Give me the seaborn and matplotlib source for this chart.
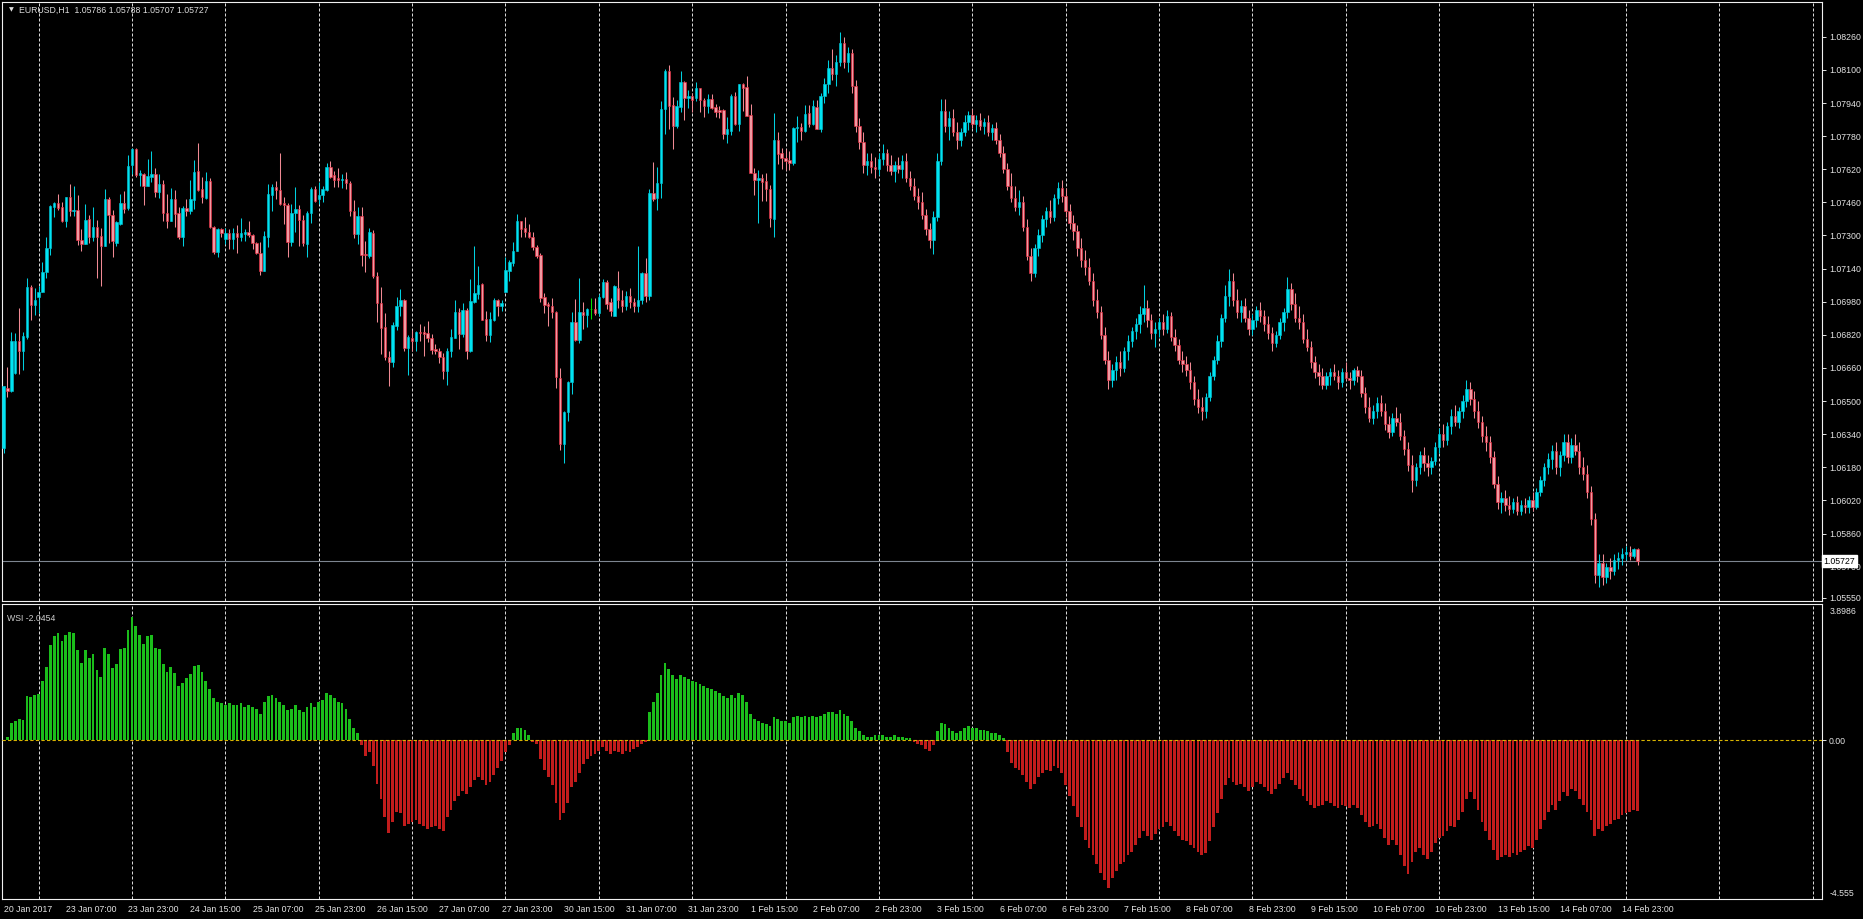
"""
EURUSD H1 candles with the WSI histogram panel underneath (MT4 style, black).
"""
import numpy as np
import pandas as pd
import matplotlib
matplotlib.use("Agg")
import matplotlib.pyplot as plt
import matplotlib.transforms as mtransforms
import seaborn as sns

# ---- data: prices in 1e-5 units, one entry per hourly bar (20 Jan 15:00 .. 15 Feb 03:00)
opens = [
    106273, 106563, 106551, 106635, 106788, 106740, 106812, 107050, 106962, 107005,
    107029, 107126, 107239, 107440, 107456, 107440, 107368, 107485, 107416, 107424,
    107279, 107260, 107380, 107292, 107340, 107298, 107250, 107475, 107397, 107266,
    107355, 107456, 107432, 107641, 107717, 107591, 107598, 107537, 107585, 107598,
    107508, 107549, 107408, 107372, 107475, 107408, 107292, 107432, 107416, 107472,
    107611, 107524, 107480, 107564, 107343, 107222, 107330, 107284, 107311, 107284,
    107311, 107295, 107306, 107316, 107303, 107263, 107214, 107129, 107295, 107496,
    107532, 107520, 107456, 107448, 107268, 107408, 107429, 107375, 107258, 107408,
    107525, 107477, 107496, 107520, 107630, 107593, 107577, 107569, 107573, 107553,
    107419, 107306, 107395, 107213, 107203, 107311, 107102, 106973, 106857, 106715,
    106691, 106865, 106957, 106989, 106756, 106804, 106791, 106836, 106836, 106828,
    106807, 106753, 106743, 106715, 106646, 106740, 106804, 106930, 106823, 106941,
    106740, 106978, 107017, 107065, 106897, 106820, 106893, 106989, 106957, 107026,
    107129, 107166, 107226, 107368, 107335, 107316, 107295, 107242, 107206, 107005,
    106968, 106957, 106930, 106611, 106292, 106447, 106592, 106881, 106796, 106930,
    106917, 106946, 106944, 106925, 107005, 107075, 106981, 106909, 107048, 106990,
    106960, 107010, 106980, 106960, 106990, 107118, 107010, 107504, 107480, 107552,
    107911, 108095, 107931, 107831, 107923, 108043, 107963, 107976, 107963, 108011,
    107955, 107927, 107960, 107923, 107907, 107907, 107789, 107805, 107976, 107837,
    108030, 108019, 107882, 107601, 107568, 107580, 107563, 107525, 107380, 107762,
    107697, 107676, 107665, 107649, 107821, 107826, 107805, 107890, 107837, 107923,
    107815, 107976, 108030, 108110, 108080, 108140, 108230, 108140, 108180, 108020,
    107830, 107750, 107640, 107660, 107630, 107620, 107670, 107700, 107640, 107610,
    107640, 107620, 107660, 107580, 107540, 107490, 107460, 107400, 107330, 107280,
    107390, 107660, 107900, 107830, 107870, 107800, 107760, 107800, 107850, 107880,
    107840, 107860, 107830, 107850, 107800, 107820, 107760, 107700, 107620, 107540,
    107480, 107440, 107460, 107340, 107200, 107120, 107240, 107300, 107380, 107420,
    107390, 107480, 107530, 107490, 107420, 107360, 107320, 107240, 107180, 107150,
    107080, 106990, 106930, 106820, 106700, 106600, 106650, 106690, 106660, 106740,
    106790, 106840, 106870, 106920, 106950, 106890, 106830, 106850, 106880, 106850,
    106910, 106810, 106770, 106700, 106680, 106650, 106590, 106510, 106470, 106450,
    106520, 106620, 106700, 106790, 106900, 107010, 107080, 106990, 106930, 106960,
    106900, 106850, 106890, 106940, 106910, 106870, 106830, 106780, 106820, 106880,
    106930, 107040, 106970, 106900, 106880, 106800, 106760, 106690, 106640, 106620,
    106580, 106620, 106640, 106620, 106590, 106640, 106610, 106600, 106650, 106620,
    106540, 106470, 106420, 106450, 106490, 106450, 106390, 106350, 106420, 106400,
    106330, 106270, 106190, 106120, 106180, 106240, 106200, 106180, 106210, 106280,
    106340, 106310, 106380, 106430, 106400, 106450, 106500, 106560, 106510, 106450,
    106400, 106330, 106300, 106230, 106100, 106010, 106030, 106000, 105980, 106010,
    105970, 106000, 105990, 106020, 105990, 106060, 106120, 106180, 106220, 106260,
    106180, 106240, 106300, 106230, 106290, 106260, 106180, 106150, 106060, 105930,
    105660, 105720, 105650, 105700, 105680, 105730, 105740, 105760, 105770, 105750,
    105786,
]
highs = [
    106574, 106667, 106836, 106831, 106949, 106836, 107094, 107060, 107046, 107054,
    107171, 107295, 107448, 107461, 107501, 107461, 107485, 107548, 107541, 107496,
    107330, 107453, 107400, 107437, 107376, 107335, 107524, 107488, 107424, 107372,
    107500, 107517, 107690, 107722, 107722, 107617, 107604, 107670, 107710, 107625,
    107598, 107569, 107500, 107529, 107521, 107437, 107443, 107475, 107569, 107665,
    107749, 107582, 107606, 107580, 107348, 107335, 107335, 107338, 107330, 107338,
    107351, 107384, 107330, 107372, 107309, 107268, 107268, 107322, 107548, 107548,
    107564, 107697, 107488, 107456, 107451, 107533, 107448, 107400, 107416, 107533,
    107541, 107557, 107541, 107649, 107660, 107612, 107625, 107596, 107606, 107561,
    107472, 107440, 107440, 107274, 107335, 107327, 107123, 107049, 106925, 106740,
    106881, 107005, 107042, 106995, 106820, 106844, 106839, 106872, 106865, 106888,
    106823, 106775, 106756, 106732, 106756, 106849, 106989, 106949, 106973, 106952,
    107091, 107250, 107153, 107070, 106933, 106930, 106997, 106994, 106989, 107198,
    107182, 107268, 107403, 107370, 107387, 107355, 107319, 107252, 107215, 107021,
    106978, 106997, 106936, 106659, 106450, 106598, 106930, 106994, 107094, 106981,
    106952, 107000, 106997, 107017, 107091, 107086, 106997, 107062, 107129, 107037,
    107032, 107048, 107000, 107251, 107126, 107193, 107525, 107654, 107633, 107950,
    108104, 108124, 107971, 107955, 108095, 108045, 108003, 107987, 108043, 108014,
    107966, 107982, 107982, 107934, 107927, 107911, 107874, 107982, 107992, 108030,
    108035, 108072, 107934, 107628, 107617, 107596, 107601, 107544, 107890, 107799,
    107724, 107718, 107708, 107826, 107879, 107842, 107931, 107931, 107955, 107955,
    107987, 108060, 108150, 108200, 108170, 108283, 108260, 108210, 108200, 108050,
    107870, 107800, 107700, 107700, 107680, 107700, 107740, 107720, 107690, 107660,
    107680, 107690, 107700, 107610, 107580, 107530, 107510, 107430, 107360, 107420,
    107700, 107960, 107960, 107900, 107910, 107850, 107820, 107880, 107900, 107910,
    107880, 107890, 107870, 107880, 107840, 107850, 107790, 107730, 107650, 107600,
    107540, 107520, 107490, 107380, 107240, 107260, 107330, 107400, 107440, 107470,
    107500, 107560, 107570, 107530, 107450, 107400, 107350, 107290, 107230, 107190,
    107120, 107040, 106960, 106860, 106740, 106680, 106720, 106740, 106760, 106820,
    106860, 106900, 106960, 107060, 106990, 106920, 106880, 106900, 106920, 106940,
    106930, 106850, 106800, 106740, 106720, 106690, 106620, 106560, 106520, 106540,
    106640, 106720, 106820, 106920, 107060, 107140, 107120, 107040, 106990, 107000,
    106940, 106920, 106960, 106980, 106940, 106910, 106860, 106840, 106900, 106950,
    107100, 107070, 107020, 106960, 106920, 106850, 106790, 106720, 106680, 106660,
    106640, 106660, 106680, 106650, 106660, 106690, 106640, 106660, 106670, 106650,
    106570, 106520, 106480, 106520, 106530, 106490, 106430, 106440, 106470, 106440,
    106360, 106300, 106240, 106200, 106260, 106280, 106240, 106230, 106300, 106370,
    106390, 106400, 106460, 106480, 106470, 106530, 106600, 106590, 106550, 106500,
    106430, 106380, 106330, 106260, 106140, 106060, 106070, 106040, 106030, 106040,
    106020, 106030, 106040, 106060, 106080, 106140, 106200, 106250, 106290, 106300,
    106260, 106340, 106340, 106320, 106340, 106300, 106230, 106190, 106090, 105960,
    105760, 105760, 105720, 105740, 105760, 105770, 105790, 105800, 105800, 105790,
    105788,
]
lows = [
    106249, 106522, 106546, 106632, 106630, 106651, 106801, 106893, 106917, 106925,
    107029, 107094, 107207, 107388, 107421, 107363, 107343, 107395, 107395, 107255,
    107227, 107260, 107263, 107271, 107094, 107058, 107250, 107266, 107195, 107250,
    107351, 107411, 107424, 107596, 107582, 107537, 107448, 107537, 107558, 107488,
    107480, 107372, 107335, 107368, 107343, 107282, 107250, 107392, 107405, 107429,
    107517, 107459, 107477, 107335, 107210, 107198, 107295, 107258, 107235, 107235,
    107214, 107271, 107271, 107295, 107235, 107210, 107110, 107129, 107242, 107416,
    107477, 107448, 107354, 107194, 107251, 107316, 107247, 107247, 107198, 107359,
    107461, 107451, 107464, 107516, 107577, 107536, 107536, 107528, 107525, 107392,
    107287, 107258, 107155, 107123, 107190, 107097, 106884, 106727, 106699, 106575,
    106667, 106844, 106913, 106743, 106627, 106743, 106743, 106791, 106720, 106785,
    106727, 106727, 106683, 106608, 106579, 106715, 106804, 106752, 106812, 106704,
    106735, 106973, 106994, 106893, 106791, 106785, 106888, 106913, 106936, 107026,
    107078, 107155, 107226, 107295, 107295, 107287, 107231, 107190, 106981, 106925,
    106865, 106901, 106563, 106265, 106200, 106402, 106534, 106788, 106780, 106849,
    106856, 106897, 106917, 106913, 107000, 106946, 106909, 106909, 106950, 106930,
    106940, 106950, 106930, 106930, 106970, 106980, 106990, 107467, 107423, 107483,
    107789, 107815, 107718, 107821, 107895, 107858, 107918, 107895, 107950, 107895,
    107874, 107890, 107911, 107874, 107869, 107766, 107745, 107786, 107834, 107805,
    107902, 107879, 107601, 107496, 107359, 107467, 107467, 107343, 107295, 107644,
    107622, 107617, 107617, 107641, 107754, 107762, 107802, 107826, 107834, 107815,
    107800, 107940, 107990, 108050, 108020, 108120, 108110, 108090, 107990, 107800,
    107720, 107600, 107590, 107600, 107580, 107590, 107640, 107610, 107590, 107560,
    107600, 107580, 107560, 107520, 107470, 107430, 107380, 107300, 107240, 107210,
    107370, 107640, 107800, 107760, 107780, 107720, 107730, 107780, 107810, 107820,
    107800, 107810, 107790, 107780, 107760, 107740, 107680, 107600, 107520, 107460,
    107420, 107400, 107320, 107180, 107080, 107100, 107200, 107270, 107340, 107360,
    107370, 107450, 107460, 107390, 107330, 107280, 107200, 107150, 107110, 107060,
    106960, 106900, 106800, 106680, 106560, 106570, 106600, 106620, 106640, 106700,
    106760, 106800, 106830, 106880, 106860, 106800, 106760, 106810, 106820, 106830,
    106790, 106740, 106680, 106640, 106620, 106560, 106480, 106440, 106410, 106420,
    106500, 106600, 106680, 106760, 106880, 106960, 106960, 106900, 106880, 106880,
    106820, 106820, 106860, 106880, 106840, 106800, 106740, 106760, 106800, 106840,
    106900, 106940, 106880, 106850, 106780, 106740, 106660, 106610, 106580, 106560,
    106560, 106580, 106600, 106560, 106570, 106600, 106560, 106580, 106590, 106520,
    106440, 106400, 106390, 106420, 106430, 106360, 106320, 106330, 106380, 106310,
    106240, 106160, 106060, 106090, 106150, 106160, 106140, 106150, 106190, 106250,
    106280, 106290, 106340, 106380, 106370, 106420, 106470, 106480, 106420, 106370,
    106300, 106260, 106200, 106080, 105980, 105960, 105970, 105950, 105960, 105950,
    105950, 105960, 105960, 105970, 105980, 106040, 106090, 106150, 106170, 106150,
    106140, 106210, 106200, 106200, 106240, 106150, 106120, 106030, 105900, 105620,
    105600, 105610, 105620, 105640, 105660, 105690, 105710, 105730, 105730, 105740,
    105707,
]
closes = [
    106571, 106551, 106788, 106788, 106744, 106815, 107050, 106962, 106986, 107029,
    107126, 107239, 107443, 107456, 107435, 107368, 107485, 107416, 107424, 107276,
    107258, 107376, 107292, 107340, 107295, 107250, 107475, 107397, 107271, 107363,
    107456, 107429, 107636, 107717, 107593, 107601, 107541, 107588, 107598, 107508,
    107549, 107408, 107372, 107475, 107405, 107292, 107432, 107416, 107475, 107607,
    107521, 107485, 107561, 107343, 107222, 107330, 107311, 107311, 107284, 107311,
    107295, 107311, 107319, 107303, 107263, 107214, 107129, 107298, 107499, 107536,
    107520, 107451, 107445, 107268, 107408, 107429, 107375, 107263, 107411, 107525,
    107467, 107496, 107525, 107633, 107585, 107569, 107569, 107573, 107553, 107416,
    107306, 107395, 107206, 107206, 107316, 107102, 106973, 106852, 106711, 106691,
    106868, 106957, 106989, 106756, 106812, 106791, 106836, 106828, 106823, 106807,
    106748, 106740, 106715, 106646, 106740, 106812, 106930, 106823, 106941, 106743,
    106984, 107021, 107062, 106893, 106820, 106897, 106989, 106957, 106973, 107134,
    107171, 107226, 107368, 107332, 107319, 107295, 107242, 107203, 106997, 106962,
    106957, 106930, 106614, 106292, 106447, 106592, 106881, 106796, 106930, 106917,
    106946, 106946, 106925, 107005, 107075, 106968, 106933, 107054, 106990, 106960,
    107010, 106980, 106960, 106990, 107118, 107010, 107504, 107477, 107552, 107911,
    108095, 107927, 107831, 107927, 108043, 107963, 107976, 107955, 108011, 107955,
    107927, 107960, 107918, 107898, 107895, 107789, 107815, 107976, 107837, 108030,
    108014, 107879, 107601, 107568, 107580, 107560, 107525, 107383, 107762, 107692,
    107673, 107660, 107649, 107821, 107826, 107805, 107886, 107837, 107927, 107815,
    107976, 108030, 108110, 108080, 108140, 108230, 108140, 108180, 108020, 107830,
    107750, 107640, 107660, 107630, 107620, 107670, 107700, 107640, 107610, 107640,
    107620, 107660, 107580, 107540, 107490, 107460, 107400, 107330, 107280, 107390,
    107660, 107900, 107830, 107870, 107800, 107760, 107800, 107850, 107880, 107840,
    107860, 107830, 107850, 107800, 107820, 107760, 107700, 107620, 107540, 107480,
    107440, 107460, 107340, 107200, 107120, 107240, 107300, 107380, 107420, 107390,
    107480, 107530, 107490, 107420, 107360, 107320, 107240, 107180, 107150, 107080,
    106990, 106930, 106820, 106700, 106600, 106650, 106690, 106660, 106740, 106790,
    106840, 106870, 106920, 106950, 106890, 106830, 106850, 106880, 106850, 106910,
    106810, 106770, 106700, 106680, 106650, 106590, 106510, 106470, 106450, 106520,
    106620, 106700, 106790, 106900, 107010, 107080, 106990, 106930, 106960, 106900,
    106850, 106890, 106940, 106910, 106870, 106830, 106780, 106820, 106880, 106930,
    107040, 106970, 106900, 106880, 106800, 106760, 106690, 106640, 106620, 106580,
    106620, 106640, 106620, 106590, 106640, 106610, 106600, 106650, 106620, 106540,
    106470, 106420, 106450, 106490, 106450, 106390, 106350, 106420, 106400, 106330,
    106270, 106190, 106120, 106180, 106240, 106200, 106180, 106210, 106280, 106340,
    106310, 106380, 106430, 106400, 106450, 106500, 106560, 106510, 106450, 106400,
    106330, 106300, 106230, 106100, 106010, 106030, 106000, 105980, 106010, 105970,
    106000, 105990, 106020, 105990, 106060, 106120, 106180, 106220, 106260, 106180,
    106240, 106300, 106230, 106290, 106260, 106180, 106150, 106060, 105930, 105660,
    105720, 105650, 105700, 105680, 105730, 105740, 105760, 105770, 105750, 105786,
    105727,
]
wsi = [
    0.00, 0.09, 0.48, 0.56, 0.61, 0.58, 1.25, 1.23, 1.28, 1.33,
    1.69, 2.09, 2.71, 2.98, 3.06, 2.84, 3.01, 3.09, 3.06, 2.57,
    2.22, 2.57, 2.34, 2.48, 2.01, 1.81, 2.65, 2.48, 2.06, 2.18,
    2.62, 2.65, 3.15, 3.54, 3.27, 3.01, 2.76, 2.99, 3.01, 2.65,
    2.60, 2.18, 1.95, 2.09, 1.92, 1.56, 1.64, 1.77, 1.90, 2.12,
    2.15, 1.95, 1.70, 1.45, 1.20, 1.10, 1.05, 1.00, 1.05, 1.00,
    1.00, 1.05, 0.95, 1.00, 0.95, 0.90, 0.75, 1.10, 1.25, 1.30,
    1.20, 1.10, 1.00, 0.85, 0.90, 1.00, 0.85, 0.80, 0.95, 1.05,
    0.95, 1.10, 1.15, 1.35, 1.30, 1.20, 1.10, 1.05, 0.90, 0.60,
    0.35, 0.20, -0.15, -0.45, -0.35, -0.75, -1.25, -1.70, -2.20, -2.65,
    -2.35, -2.05, -2.10, -2.45, -2.40, -2.35, -2.30, -2.40, -2.45, -2.55,
    -2.50, -2.45, -2.55, -2.60, -2.20, -2.00, -1.75, -1.60, -1.45, -1.55,
    -1.35, -1.15, -1.05, -1.15, -1.30, -1.20, -1.00, -0.80, -0.60, -0.35,
    -0.15, 0.20, 0.35, 0.35, 0.30, 0.15, -0.05, -0.10, -0.55, -0.85,
    -1.05, -1.30, -1.80, -2.30, -2.10, -1.80, -1.35, -1.20, -0.95, -0.70,
    -0.55, -0.45, -0.40, -0.30, -0.20, -0.30, -0.40, -0.30, -0.35, -0.40,
    -0.30, -0.35, -0.25, -0.20, -0.10, -0.05, 0.80, 1.10, 1.35, 1.85,
    2.20, 2.05, 1.85, 1.75, 1.85, 1.80, 1.75, 1.70, 1.65, 1.60,
    1.55, 1.50, 1.45, 1.40, 1.35, 1.25, 1.20, 1.30, 1.20, 1.35,
    1.30, 1.10, 0.75, 0.60, 0.55, 0.50, 0.45, 0.40, 0.65, 0.60,
    0.55, 0.55, 0.50, 0.65, 0.70, 0.65, 0.70, 0.65, 0.70, 0.65,
    0.70, 0.75, 0.80, 0.80, 0.75, 0.85, 0.75, 0.70, 0.55, 0.35,
    0.25, 0.15, 0.10, 0.10, 0.15, 0.15, 0.15, 0.10, 0.10, 0.15,
    0.10, 0.10, 0.05, 0.05, -0.05, -0.10, -0.15, -0.25, -0.30, -0.15,
    0.25, 0.50, 0.45, 0.35, 0.25, 0.20, 0.25, 0.35, 0.40, 0.35,
    0.35, 0.30, 0.30, 0.25, 0.20, 0.20, 0.15, 0.05, -0.35, -0.65,
    -0.80, -0.85, -1.00, -1.20, -1.40, -1.25, -1.05, -0.95, -0.85, -0.90,
    -0.75, -0.80, -0.95, -1.30, -1.60, -1.90, -2.20, -2.50, -2.85, -3.10,
    -3.30, -3.55, -3.80, -4.00, -4.25, -3.95, -3.75, -3.55, -3.50, -3.30,
    -3.20, -3.00, -2.80, -2.60, -2.75, -2.85, -2.70, -2.55, -2.50, -2.35,
    -2.45, -2.60, -2.75, -2.85, -2.90, -3.00, -3.10, -3.20, -3.30, -3.25,
    -2.90, -2.50, -2.10, -1.70, -1.30, -1.10, -1.20, -1.30, -1.25, -1.35,
    -1.45, -1.35, -1.20, -1.25, -1.35, -1.45, -1.55, -1.40, -1.25, -1.10,
    -0.95, -1.15, -1.30, -1.40, -1.60, -1.75, -1.85, -1.95, -1.90, -1.85,
    -1.75, -1.80, -1.90, -1.95, -1.85, -1.90, -1.95, -1.85, -1.95, -2.15,
    -2.35, -2.50, -2.45, -2.40, -2.55, -2.80, -3.00, -2.85, -3.00, -3.30,
    -3.60, -3.85, -3.50, -3.20, -3.10, -3.30, -3.40, -3.20, -2.95, -2.80,
    -2.75, -2.60, -2.45, -2.50, -2.30, -2.05, -1.70, -1.50, -1.70, -2.00,
    -2.35, -2.60, -2.85, -3.15, -3.45, -3.35, -3.30, -3.35, -3.25, -3.30,
    -3.20, -3.15, -3.05, -3.10, -2.85, -2.55, -2.30, -2.05, -1.85, -2.00,
    -1.75, -1.50, -1.60, -1.40, -1.45, -1.70, -1.85, -2.05, -2.30, -2.75,
    -2.55, -2.60, -2.45, -2.40, -2.30, -2.25, -2.15, -2.10, -2.05, -2.00,
    -2.0454,
]
time_labels = [
    "20 Jan 2017", "23 Jan 07:00", "23 Jan 23:00", "24 Jan 15:00", "25 Jan 07:00",
    "25 Jan 23:00", "26 Jan 15:00", "27 Jan 07:00", "27 Jan 23:00", "30 Jan 15:00",
    "31 Jan 07:00", "31 Jan 23:00", "1 Feb 15:00", "2 Feb 07:00", "2 Feb 23:00",
    "3 Feb 15:00", "6 Feb 07:00", "6 Feb 23:00", "7 Feb 15:00", "8 Feb 07:00",
    "8 Feb 23:00", "9 Feb 15:00", "10 Feb 07:00", "10 Feb 23:00", "13 Feb 15:00",
    "14 Feb 07:00", "14 Feb 23:00",
]
price_ticks = [1.0826, 1.0810, 1.0794, 1.0778, 1.0762, 1.0746, 1.0730, 1.0714, 1.0698,
               1.0682, 1.0666, 1.0650, 1.0634, 1.0618, 1.0602, 1.0586, 1.0570, 1.0555]
last_price = 1.05727
wsi_top, wsi_bottom = 3.8986, -4.555
header = "EURUSD,H1  1.05786 1.05788 1.05707 1.05727"

# ---- look
sns.set_style("dark")
plt.rcParams["font.family"] = ["Liberation Sans", "DejaVu Sans"]
FG = "#e4e4e4"
GRID = "#d8d8d8"
FS = 6.3

W, H = 1863, 919
fig = plt.figure(figsize=(W / 100, H / 100), dpi=100, facecolor="black")


def box(l, t, r, b):
    return [l / W, 1 - b / H, (r - l) / W, (b - t) / H]


ax = fig.add_axes(box(2, 2, 1822, 601))
axi = fig.add_axes(box(2, 604, 1822, 899))

n = len(closes)
x = np.arange(n)
o = np.array(opens) / 1e5
h = np.array(highs) / 1e5
l = np.array(lows) / 1e5
c = np.array(closes) / 1e5

bull = c > o
bear = c < o
face = np.where(bull, "#00e4f2", np.where(bear, "#f09aa2", "#00e000"))
edge = np.where(bull, "#00bfd0", np.where(bear, "#e8283e", "#00e000"))
wick = np.where(bull, "#00d0e0", np.where(bear, "#f08a94", "#00e000"))

ax.vlines(x, l, h, colors=wick, lw=0.75, zorder=3)
ax.bar(x, np.maximum(np.abs(c - o), 0.000012), bottom=np.minimum(o, c),
       width=0.62, color=face, edgecolor=edge, linewidth=0.45, zorder=4)

xmin, xmax = -0.41, 467.4
grid_x = np.arange(9, xmax, 24)
for a in (ax, axi):
    a.set_facecolor("black")
    for gx in grid_x:
        a.axvline(gx, color=GRID, lw=0.72, ls=(0, (3, 2)), zorder=1)
    for s in a.spines.values():
        s.set_color("#f0f0f0")
        s.set_linewidth(0.8)
    a.grid(False)

ax.axhline(last_price, color="#7d8590", lw=0.8, zorder=2)
ax.set_xlim(xmin, xmax)
ax.set_ylim(1.055341, 1.084281)
ax.yaxis.tick_right()
ax.set_yticks(price_ticks)
ax.set_yticklabels([f"{v:.5f}" for v in price_ticks])
ax.tick_params(axis="y", colors=FG, labelsize=FS, length=3, width=0.7, pad=2, direction="out")
ax.tick_params(axis="x", bottom=False, labelbottom=False)
trans = mtransforms.blended_transform_factory(ax.transAxes, ax.transData)
ax.text(1.0008, last_price, "1.05727", transform=trans, ha="left", va="center",
        fontsize=FS, color="black", zorder=10,
        bbox=dict(boxstyle="square,pad=0.2", fc="white", ec="white"))

# ---- WSI histogram
df = pd.DataFrame({"bar": x, "wsi": wsi})
df["side"] = np.where(df["wsi"] >= 0, "up", "down")
sns.barplot(data=df, x="bar", y="wsi", hue="side", native_scale=True, dodge=False,
            palette={"up": "#00d800", "down": "#dc0000"}, width=0.72,
            errorbar=None, legend=False, linewidth=0, ax=axi, zorder=3)
axi.axhline(0, color="#d8b400", lw=0.8, ls=(0, (3, 2)), zorder=4)
axi.set_xlim(xmin, xmax)
axi.set_ylim(wsi_bottom, wsi_top)
axi.set_xlabel("")
axi.set_ylabel("")
axi.yaxis.tick_right()
axi.set_yticks([0])
axi.set_yticklabels(["0.00"])
axi.tick_params(axis="y", colors=FG, labelsize=FS, length=3, width=0.7, pad=2)
axi.text(1.004, 0.99, f"{wsi_top:.4f}", transform=axi.transAxes, ha="left", va="top",
         fontsize=FS, color=FG)
axi.text(1.004, 0.005, f"{wsi_bottom:.3f}", transform=axi.transAxes, ha="left", va="bottom",
         fontsize=FS, color=FG)
axi.text(0.003, 0.965, f"WSI {wsi[-1]:.4f}", transform=axi.transAxes, ha="left", va="top",
         fontsize=FS, color="#cfcfcf")

tick_pos = np.arange(0, 16 * len(time_labels), 16)
axi.set_xticks(tick_pos)
axi.set_xticklabels(time_labels)
axi.tick_params(axis="x", colors=FG, labelsize=FS, length=3, width=0.7, pad=1)
for lbl in axi.get_xticklabels():
    lbl.set_ha("left")

fig.text(9 / W, 1 - 10 / H, "▼", color="#e0e0e0", fontsize=4.5, va="center", ha="left",
         family=["DejaVu Sans"])
fig.text(19 / W, 1 - 10 / H, header, color="#dcdcdc", fontsize=FS, va="center", ha="left")

fig.savefig("out.png", dpi=100, facecolor="black")
